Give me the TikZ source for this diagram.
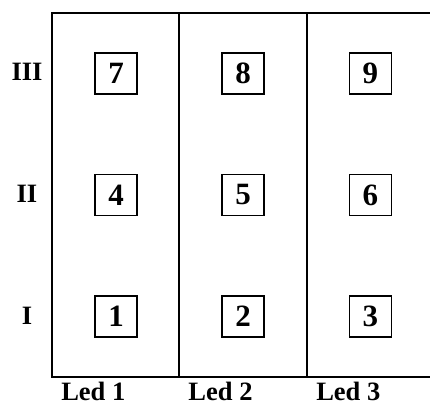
\documentclass[tikz,border=0pt]{standalone}
\usepackage{fontspec}
\setmainfont{Liberation Serif}
\begin{document}
\begin{tikzpicture}[x=1pt,y=-1pt,
  cell/.style={draw, line width=1.6pt, minimum width=42pt, minimum height=41pt, inner sep=0pt,
    font=\fontsize{31}{34}\selectfont\bfseries},
  lab/.style={inner sep=0pt, font=\fontsize{26.5}{30}\selectfont\bfseries},
  frame/.style={line width=2pt}]
\useasboundingbox (0,0) rectangle (430,406);
\coordinate (tl) at (52,13);
\coordinate (bl) at (52,376.5);
\coordinate (tr) at (431,13);
\coordinate (br) at (431,376.5);
\coordinate (v1t) at (179,13);
\coordinate (v1b) at (179,376.5);
\coordinate (v2t) at (306.7,13);
\coordinate (v2b) at (306.7,376.5);
\draw[frame] (tr) -- (tl) -- (bl) -- (br);
\draw[frame] (v1t) -- (v1b);
\draw[frame] (v2t) -- (v2b);
\node[cell] (n7) at (116,73.7) {7};
\node[cell] (n8) at (243,73.7) {8};
\node[cell] (n9) at (370.3,73.7) {9};
\node[cell] (n4) at (116,195) {4};
\node[cell] (n5) at (243,195) {5};
\node[cell] (n6) at (370.3,195) {6};
\node[cell] (n1) at (116,316.3) {1};
\node[cell] (n2) at (243,316.3) {2};
\node[cell] (n3) at (370.3,316.3) {3};
\node[lab] (r3) at (27,72) {III};
\node[lab] (r2) at (27,194) {II};
\node[lab] (r1) at (27,316) {I};
\node[lab] (c1) at (93.3,391.5) {Led 1};
\node[lab] (c2) at (220.5,391.5) {Led 2};
\node[lab] (c3) at (348.3,391.5) {Led 3};
\end{tikzpicture}
\end{document}
